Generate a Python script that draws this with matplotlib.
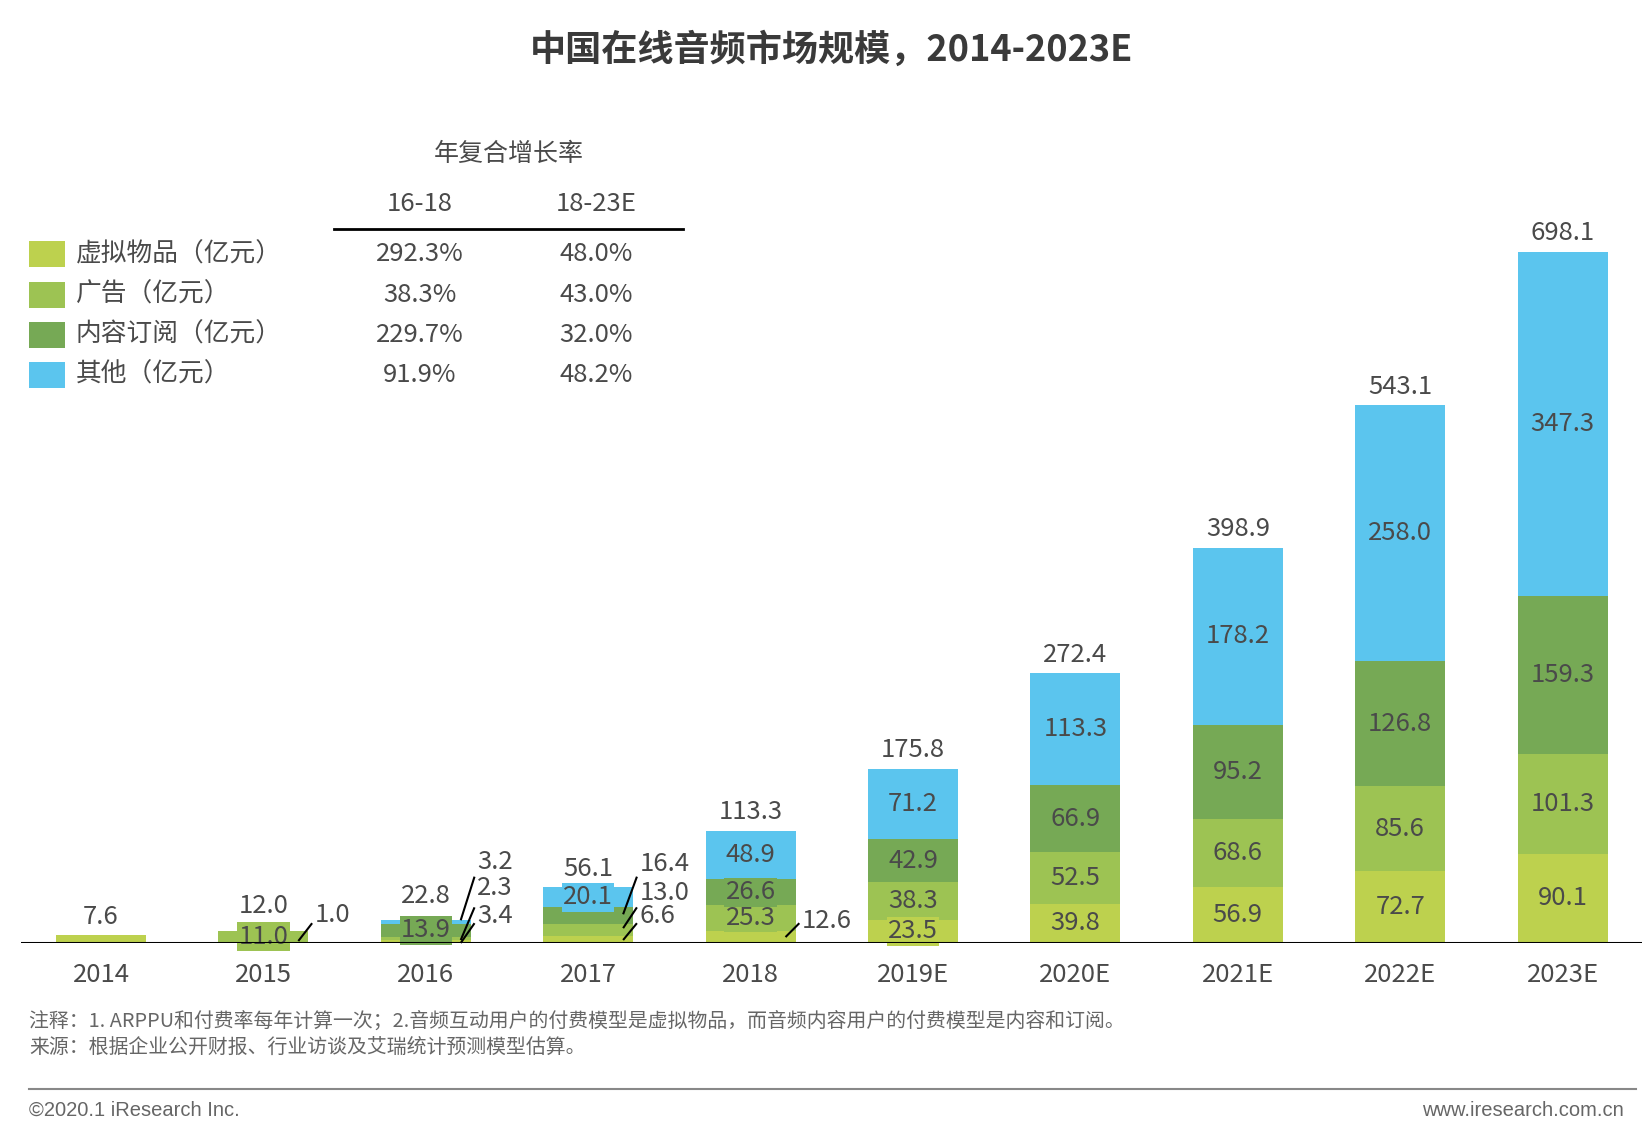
import numpy as np
import matplotlib
matplotlib.use("Agg")
import matplotlib.pyplot as plt
from matplotlib.patches import Rectangle

plt.rcParams["font.family"] = ["Noto Sans CJK SC", "DejaVu Sans"]

# ---- data -------------------------------------------------------------
years = ["2014", "2015", "2016", "2017", "2018",
         "2019E", "2020E", "2021E", "2022E", "2023E"]
virtual_goods = [7.6, 1.0, 3.4, 6.6, 12.6, 23.5, 39.8, 56.9, 72.7, 90.1]
advertising = [0.0, 11.0, 2.3, 13.0, 25.3, 38.3, 52.5, 68.6, 85.6, 101.3]
subscription = [0.0, 0.0, 13.9, 16.4, 26.6, 42.9, 66.9, 95.2, 126.8, 159.3]
other = [0.0, 0.0, 3.2, 20.1, 48.9, 71.2, 113.3, 178.2, 258.0, 347.3]
totals = [7.6, 12.0, 22.8, 56.1, 113.3, 175.8, 272.4, 398.9, 543.1, 698.1]

series_names = ["虚拟物品（亿元）", "广告（亿元）", "内容订阅（亿元）", "其他（亿元）"]
cagr_head = "年复合增长率"
cagr_periods = ["16-18", "18-23E"]
cagr_16_18 = ["292.3%", "38.3%", "229.7%", "91.9%"]
cagr_18_23 = ["48.0%", "43.0%", "32.0%", "48.2%"]

# small segments labelled outside the bar with a leader line:
# (year index, series index, line start y, line end y, text y)
outside = [(1, 0, 2, 20, 28),
           (2, 3, 23, 67, 82), (2, 1, 3, 36, 56), (2, 0, 0, 20, 27),
           (3, 2, 29, 67, 80), (3, 1, 15, 36, 50), (3, 0, 3, 20, 27),
           (4, 0, 6, 20, 22)]

colors = ["#BDD14E", "#9DC353", "#76A955", "#5BC5EE"]
txt = "#4a4a4a"

# ---- figure -----------------------------------------------------------
W, H = 1648, 1126
fig = plt.figure(figsize=(W / 100, H / 100), dpi=100)

px_per_unit = 0.99
ax_left, ax_right, ax_bottom, ax_top = 21, 1642, 943, 130
ax = fig.add_axes([ax_left / W, 1 - ax_bottom / H,
                   (ax_right - ax_left) / W, (ax_bottom - ax_top) / H])
step = 162.4
x0 = 101
ax.set_xlim(-(x0 - ax_left) / step, (ax_right - x0) / step)
ax.set_ylim(0, (ax_bottom - ax_top) / px_per_unit)

x = np.arange(len(years))
width = 0.554
stack = [virtual_goods, advertising, subscription, other]
bottom = np.zeros(len(years))
out_set = {(o[0], o[1]) for o in outside}
for s, vals in enumerate(stack):
    vals = np.array(vals)
    ax.bar(x, vals, width, bottom=bottom, color=colors[s], linewidth=0, zorder=2)
    for i, v in enumerate(vals):
        if v <= 0 or (i, s) in out_set or i == 0:
            continue
        ax.text(x[i], bottom[i] + v / 2, f"{v:.1f}", ha="center", va="center",
                fontsize=18.5, color=txt, zorder=4,
                bbox=dict(boxstyle="square,pad=0.05", fc=colors[s], ec="none"))
    bottom += vals

for i, s, y0, y1, ty in outside:
    v = stack[s][i]
    ax.plot([x[i] + 0.215, x[i] + 0.30], [y0, y1], color="black",
            lw=1.5, zorder=5, solid_capstyle="butt", clip_on=False)
    ax.text(x[i] + 0.315, ty, f"{v:.1f}", ha="left", va="center",
            fontsize=18.5, color=txt, zorder=5)

for i, t in enumerate(totals):
    ax.text(x[i], t + 19 + (6 if i in (1, 2) else 0), f"{t:.1f}",
            ha="center", va="center", fontsize=18.5, color=txt, zorder=4)

ax.axhline(0, color="black", lw=2.2, zorder=6)
for sp in ax.spines.values():
    sp.set_visible(False)
ax.set_yticks([])
ax.set_xticks(x)
ax.set_xticklabels(years, fontsize=18.5, color=txt)
ax.tick_params(axis="x", length=0, pad=14)
ax.patch.set_alpha(0)

# ---- overlay in pixel coords -----------------------------------------
ov = fig.add_axes([0, 0, 1, 1], zorder=-1)
ov.set_xlim(0, W)
ov.set_ylim(H, 0)
ov.axis("off")

ov.text(832, 50, "中国在线音频市场规模，2014-2023E", ha="center", va="center",
        fontsize=26, fontweight="bold", color="#3a3a3a")

ov.text(509, 154, cagr_head, ha="center", va="center", fontsize=18, color=txt)
col_x = [420, 596]
for cx, head in zip(col_x, cagr_periods):
    ov.text(cx, 204, head, ha="center", va="center", fontsize=18.5, color=txt)
ov.plot([334, 683], [229, 229], color="black", lw=2)

row_y = [254, 295, 335, 375]
for k, name in enumerate(series_names):
    ov.add_patch(Rectangle((29, row_y[k] - 13), 36, 26, color=colors[k], lw=0))
    ov.text(76, row_y[k], name, ha="left", va="center", fontsize=18.5, color=txt)
    ov.text(col_x[0], row_y[k], cagr_16_18[k], ha="center", va="center",
            fontsize=18.5, color=txt)
    ov.text(col_x[1], row_y[k], cagr_18_23[k], ha="center", va="center",
            fontsize=18.5, color=txt)

note_color = "#666666"
ov.text(29, 1022, "注释：1. ARPPU和付费率每年计算一次；2.音频互动用户的付费模型是虚拟物品，"
        "而音频内容用户的付费模型是内容和订阅。",
        ha="left", va="center", fontsize=14.3, color=note_color)
ov.text(29, 1047, "来源：根据企业公开财报、行业访谈及艾瑞统计预测模型估算。",
        ha="left", va="center", fontsize=14.3, color=note_color)
ov.plot([29, 1636], [1089, 1089], color="#888888", lw=1.5)
ov.text(29, 1110, "©2020.1 iResearch Inc.", ha="left", va="center",
        fontsize=14.5, color=note_color, family=["Liberation Sans", "DejaVu Sans"])
ov.text(1624, 1110, "www.iresearch.com.cn", ha="right", va="center",
        fontsize=14.5, color=note_color, family=["Liberation Sans", "DejaVu Sans"])

fig.savefig("out.png", dpi=100, facecolor="white")
